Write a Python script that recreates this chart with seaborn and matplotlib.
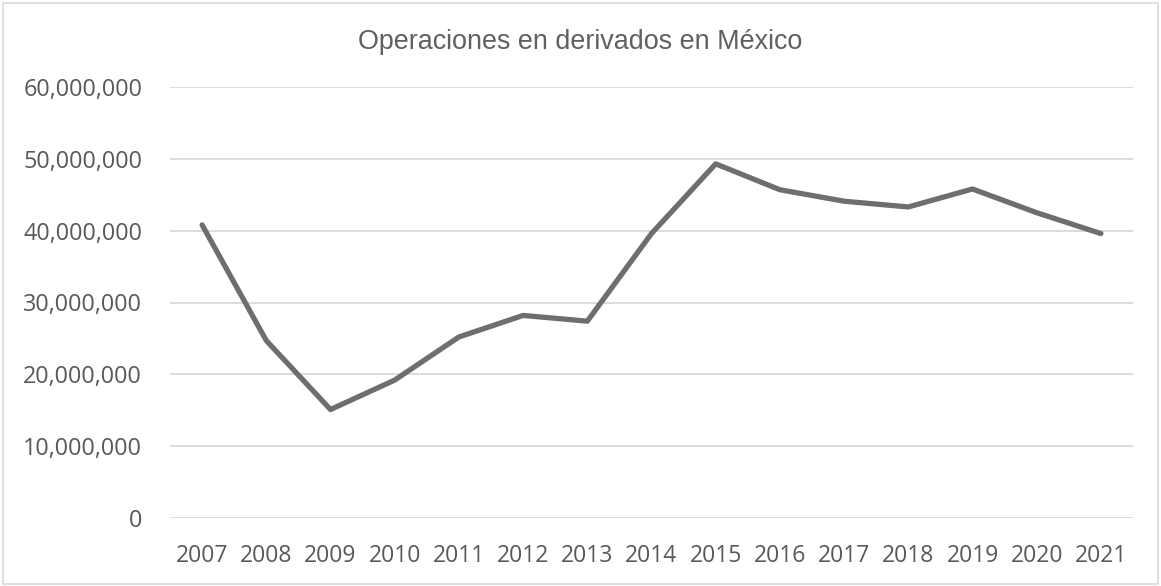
import matplotlib
matplotlib.use("Agg")
import matplotlib.pyplot as plt
import seaborn as sns
import pandas as pd
from matplotlib.patches import Rectangle
from matplotlib.ticker import FuncFormatter

years = ["2007", "2008", "2009", "2010", "2011", "2012", "2013", "2014",
         "2015", "2016", "2017", "2018", "2019", "2020", "2021"]
operaciones = [40.8e6, 24.7e6, 15.1e6, 19.2e6, 25.2e6, 28.2e6, 27.4e6, 39.6e6,
               49.3e6, 45.7e6, 44.1e6, 43.3e6, 45.8e6, 42.5e6, 39.6e6]
title = "Operaciones en derivados en México"

df = pd.DataFrame({"year": years, "ops": operaciones})

sns.set_theme(style="white")
plt.rcParams['font.family'] = ['Open Sans', 'DejaVu Sans']

W, H = 1161, 586
fig = plt.figure(figsize=(W / 100, H / 100), dpi=100)
ax = fig.add_axes([170 / W, 1 - 518 / H, (1133 - 170) / W, (518 - 87) / H])

text_c = "#595959"
grid_c = "#d9d9d9"

sns.lineplot(data=df, x="year", y="ops", ax=ax, color="#6e6e6e",
             linewidth=3.8, sort=False)

ax.set_ylim(0, 60e6)
ax.set_xlim(-0.5, len(years) - 0.5)
ax.set_yticks([0, 10e6, 20e6, 30e6, 40e6, 50e6, 60e6])
ax.yaxis.set_major_formatter(FuncFormatter(lambda v, p: f"{int(v):,}"))
ax.grid(axis="y", color=grid_c, linewidth=1.3)
ax.grid(axis="x", visible=False)
ax.set_axisbelow(True)
for s in ["top", "right", "left", "bottom"]:
    ax.spines[s].set_visible(False)
ax.set_xlabel("")
ax.set_ylabel("")
ax.tick_params(axis="y", length=0, pad=20, labelsize=16.8, labelcolor=text_c)
ax.tick_params(axis="x", length=0, pad=19, labelsize=16.5, labelcolor=text_c)

fig.text(0.5, 1 - 42 / H, title, ha="center", va="center",
         fontsize=19.4, color="#606060", family=["Liberation Sans", "DejaVu Sans"])

fig.patches.append(Rectangle((3 / W, 2 / H), (1158 - 3) / W, (583 - 2) / H,
                             transform=fig.transFigure, fill=False,
                             edgecolor="#d9d9d9", linewidth=1.2))

fig.savefig("out.png", dpi=100, facecolor="white")
